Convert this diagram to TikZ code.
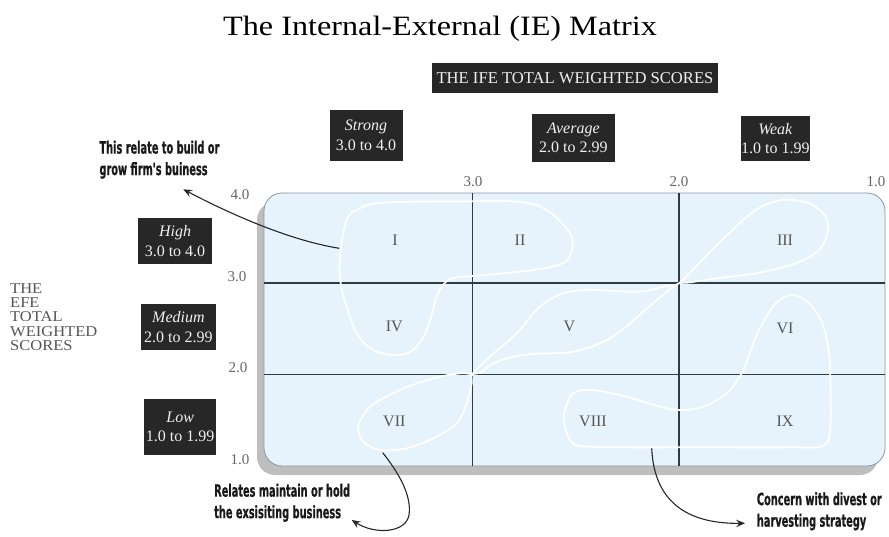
\documentclass[tikz,border=0pt]{standalone}
\usepackage{fontspec}
\setmainfont{Liberation Serif}
\newfontfamily\titlefont{Liberation Serif}[FakeStretch=1.15]
\newfontfamily\axisfont{Liberation Serif}[FakeStretch=1.1]
\newfontfamily\annfont{DejaVu Sans Condensed Bold}[FakeStretch=0.64,FakeBold=0.6]
\usetikzlibrary{arrows.meta}
\definecolor{cellblue}{HTML}{E6F3FC}
\definecolor{shadowgray}{HTML}{BEBEBE}
\definecolor{gridline}{HTML}{2E3A44}
\definecolor{boxblack}{HTML}{272727}
\definecolor{labgray}{HTML}{555555}
\definecolor{rimgray}{HTML}{8A96A2}
\begin{document}
\begin{tikzpicture}[x=1pt,y=-1pt,
  dbox/.style={fill=boxblack, text=white!94!black, align=center, inner sep=0pt,
    font=\fontsize{16}{19.5}\selectfont},
  ann/.style={text=black!90, align=left, anchor=west, inner sep=0pt,
    font=\annfont\fontsize{17}{21.5}\selectfont},
  cell/.style={text=labgray, inner sep=0pt, font=\fontsize{16}{16}\selectfont},
  scalelab/.style={text=black!60, inner sep=0pt, font=\fontsize{15}{15}\selectfont},
  gridln/.style={draw=gridline, line width=1.4pt},
  blob/.style={draw=white, line width=1.8pt},
  arr/.style={draw=black!85, line width=1.1pt, -{Stealth[length=9pt,width=7.5pt,inset=3.5pt]}}
]
\useasboundingbox (0,0) rectangle (889,537);

% title
\node[anchor=base, inner sep=0pt, font=\titlefont\fontsize{28}{28}\selectfont] (title) at (440,35.7) {The Internal-External (IE) Matrix};

% header boxes
\node[dbox, minimum width=286pt, minimum height=29.5pt, font=\fontsize{16.6}{19.5}\selectfont] (ife) at (575,78) {THE IFE TOTAL WEIGHTED SCORES};
\node[dbox, minimum width=73pt, minimum height=51pt] (strong) at (366,135.5) {\textit{Strong}\\3.0 to 4.0};
\node[dbox, minimum width=83pt, minimum height=48pt] (average) at (573.4,138) {\textit{Average}\\2.0 to 2.99};
\node[dbox, minimum width=69.5pt, minimum height=45pt] (weak) at (775.4,138.5) {\textit{Weak}\\1.0 to 1.99};

\node[dbox, minimum width=74.6pt, minimum height=46pt] (high) at (175,241.3) {\textit{High}\\3.0 to 4.0};
\node[dbox, minimum width=75.3pt, minimum height=45.7pt] (medium) at (178.4,327.2) {\textit{Medium}\\2.0 to 2.99};
\node[dbox, minimum width=71.7pt, minimum height=56pt] (low) at (180.2,427) {\textit{Low}\\1.0 to 1.99};

% left axis title
\node[anchor=north west, align=left, inner sep=0pt, text=labgray, font=\axisfont\fontsize{15}{14.2}\selectfont] (efe) at (10,283.4) {THE\\EFE\\TOTAL\\WEIGHTED\\SCORES};

% matrix body
\fill[shadowgray, rounded corners=18pt] (257,202) rectangle (878,475);
\draw[draw=rimgray, line width=0.8pt, fill=cellblue, rounded corners=18pt] (264,193) rectangle (885,466);
\draw[gridln] (472.5,193) -- (472.5,466);
\draw[gridln] (679,193) -- (679,466);
\draw[gridln] (264,283) -- (885,283);
\draw[gridln] (264,374.5) -- (885,374.5);

% scale labels
\node[scalelab] (t30) at (473,182) {3.0};
\node[scalelab] (t20) at (679,182) {2.0};
\node[scalelab] (t10) at (876,182) {1.0};
\node[scalelab] (l40) at (240,195) {4.0};
\node[scalelab] (l30) at (237,277) {3.0};
\node[scalelab] (l20) at (238,368) {2.0};
\node[scalelab] (l10) at (240,460) {1.0};

% white outlines
\draw[blob] plot[smooth cycle, tension=0.6] coordinates {
 (383,202.7) (450,201.5) (516.7,201.7) (546.7,210) (570,233.3) (571.7,250) (563,263)
 (533,270) (473,276) (453,278) (443,285) (436.7,296.7) (426.7,330) (413,350)
 (396.7,355) (373,350) (356.7,333) (346.7,306.7) (340.7,283.3) (340,256.7)
 (346.7,220) (360,208.3)};
\draw[blob] plot[smooth cycle, tension=0.55] coordinates {
 (472.5,374) (490,356.7) (516.7,333.3) (540,306.7) (563.3,293.3) (593.3,290)
 (639,291.7) (665.7,286) (679,283.3) (699,263.3) (729,233.3) (755.7,210) (782,200)
 (809,203.3) (825.7,216.7) (827.3,233.3) (819,250) (795.7,263.3) (755.7,273.3)
 (715.7,278.3) (689,282.5) (679,283.3) (669,290) (649,306.7) (622,330) (600,343.3)
 (573.3,351.7) (553.3,353.3) (533.3,354) (513.3,356.7) (493.3,363.3) (481.7,371.7)
 (472.5,374) (460,373.3) (433.3,378.3) (400,390) (370,406.7) (358.3,426.7)
 (363.3,441.7) (380,450) (406.7,448.3) (433.3,438.3) (456.7,423.3) (466.7,403.3)
 (471.7,383.3)};
\draw[blob] plot[smooth cycle, tension=0.55] coordinates {
 (565,410) (573.3,393.3) (593.3,390) (626.7,396.7) (660,406.7) (680,410)
 (703.3,406.7) (726.7,393.3) (741.7,373.3) (750,352) (759,330) (775.7,303.3)
 (792.3,295) (809,303.3) (822.3,323.3) (829,353.3) (830.7,393.3) (830,430)
 (823.3,446) (790,447.3) (700,447.3) (620,447.3) (580,446) (570,440) (564,423.3)};

% cell labels
\node[cell] (c1) at (395,240) {I};
\node[cell] (c2) at (520,240) {II};
\node[cell] (c3) at (785,240) {III};
\node[cell] (c4) at (394.3,326.7) {IV};
\node[cell] (c5) at (569.3,326.7) {V};
\node[cell] (c6) at (785,328) {VI};
\node[cell] (c7) at (394.3,421) {VII};
\node[cell] (c8) at (593,421) {VIII};
\node[cell] (c9) at (785,421) {IX};

% annotations
\node[ann] (ann1) at (99.3,159.7) {This relate to build or\\grow firm's buiness};
\node[ann] (ann2) at (214,502.8) {Relates maintain or hold\\the exsisiting business};
\node[ann] (ann3) at (756.7,511.3) {Concern with divest or\\harvesting strategy};

\coordinate (b1) at (339.3,248.3);
\coordinate (b2) at (382.7,452.7);
\coordinate (b3) at (651.7,448.3);
\coordinate (tip1) at (183.3,189.3);
\coordinate (mid2) at (409,515);
\coordinate (tip2) at (351.7,520);
\coordinate (tip3) at (745,523.3);

\draw[arr] (b1) .. controls (290,240.5) and (230,214) .. (tip1);
\draw[arr] (b2) .. controls (398,472) and (412,495) .. (mid2)
  .. controls (406,533) and (375,535) .. (tip2);
\draw[arr] (b3) .. controls (654,500) and (685,524) .. (tip3);
\end{tikzpicture}
\end{document}
